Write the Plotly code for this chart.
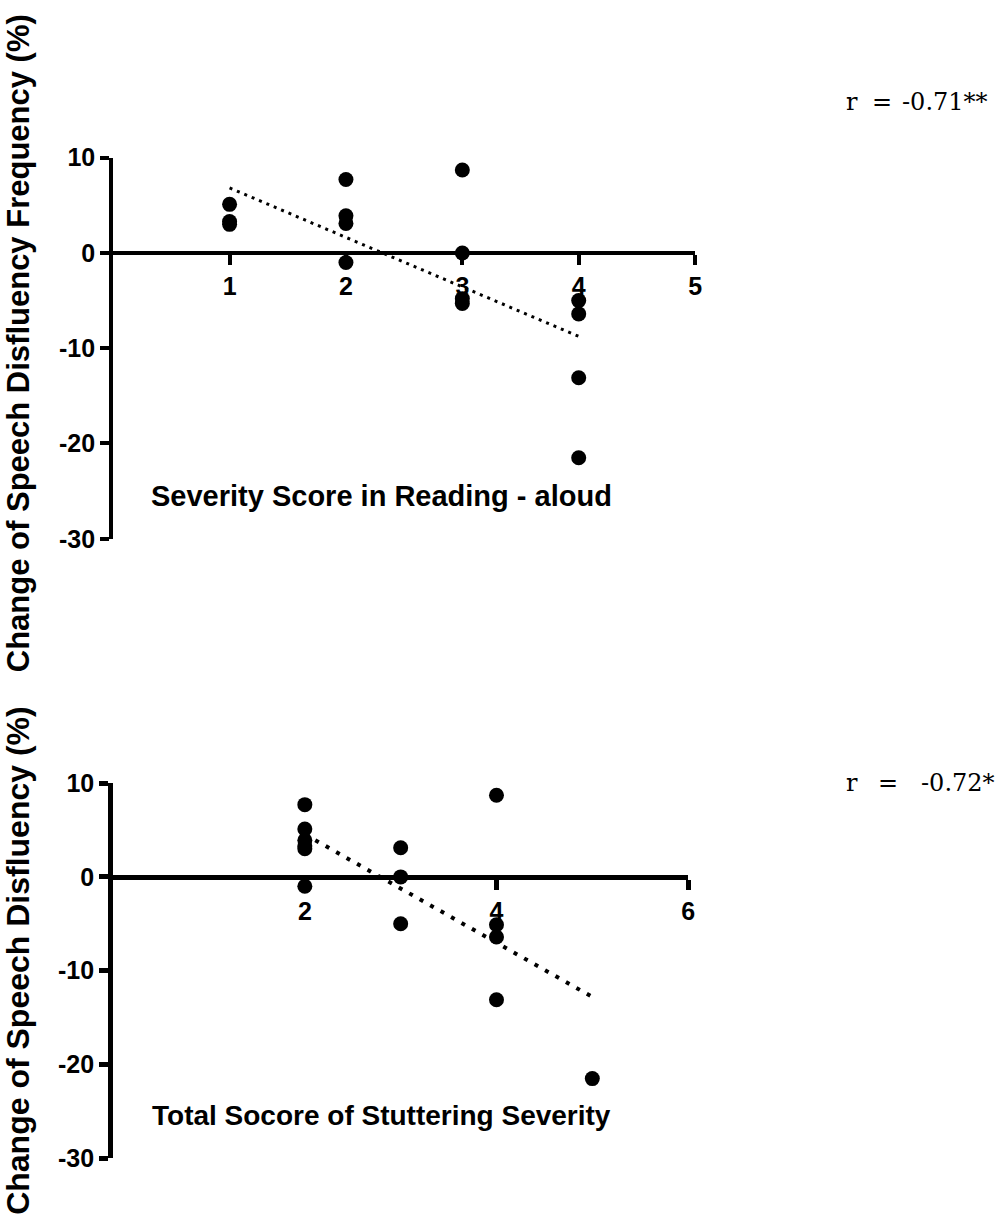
import numpy as np
import plotly.graph_objects as go

# Severity score in reading-aloud vs. change of disfluency frequency
read_score = [1, 1, 1, 2, 2, 2, 2, 3, 3, 3, 3, 4, 4, 4, 4]
read_change = [5.1, 3.3, 3.0, 7.7, 3.9, 3.1, -1.0, 8.7, 0.0, -4.8, -5.3,
               -5.0, -6.4, -13.1, -21.5]

# Total stuttering severity score vs. change of disfluency
total_score = [2, 2, 2, 2, 2, 2, 3, 3, 3, 4, 4, 4, 4, 5]
total_change = [7.7, 5.1, 3.9, 3.3, 3.0, -1.0, 3.1, 0.0, -5.0,
                8.7, -5.1, -6.4, -13.1, -21.5]

y_ticks = [-30, -20, -10, 0, 10]
y_ticktext = ["-30", "-20", "-10", "0", "10"]
top_x_ticks = [1, 2, 3, 4, 5]
bottom_x_ticks = [2, 4, 6]

top_xlabel = "Severity Score in Reading - aloud"
bottom_xlabel = "Total Socore of Stuttering Severity"
top_ytitle = "Change of Speech Disfluency Frequency (%)"
bottom_ytitle = "Change of Speech Disfluency (%)"
top_r = "-0.71**"
bottom_r = "-0.72*"

W, H = 997, 1230


def px_x(p):
    return p / W


def px_y(p):
    return 1 - p / H


def fit_line(x, y):
    slope, icpt = np.polyfit(x, y, 1)
    xs = np.array([min(x), max(x)], dtype=float)
    return xs, slope * xs + icpt


bold = dict(family="Liberation Sans, Arial, sans-serif", color="black", weight="bold")
serif = dict(family="DejaVu Serif, Liberation Serif, serif", color="black", size=24)

fig = go.Figure()

# top panel
fx, fy = fit_line(read_score, read_change)
fig.add_trace(go.Scatter(x=fx, y=fy, mode="lines", xaxis="x", yaxis="y",
                         line=dict(color="black", width=3, dash="3px,5px"),
                         showlegend=False, hoverinfo="skip"))
fig.add_trace(go.Scatter(x=read_score, y=read_change, mode="markers", xaxis="x", yaxis="y",
                         marker=dict(color="black", size=15), cliponaxis=False,
                         showlegend=False))

# bottom panel
fx2, fy2 = fit_line(total_score, total_change)
fig.add_trace(go.Scatter(x=fx2, y=fy2, mode="lines", xaxis="x2", yaxis="y2",
                         line=dict(color="black", width=4, dash="4px,8px"),
                         showlegend=False, hoverinfo="skip"))
fig.add_trace(go.Scatter(x=total_score, y=total_change, mode="markers", xaxis="x2", yaxis="y2",
                         marker=dict(color="black", size=15), cliponaxis=False,
                         showlegend=False))

y_range = [-30, 10]
top_ydom = [px_y(537), px_y(147)]
bot_ydom = [px_y(1171), px_y(787)]


def zero_pos(dom):
    return dom[0] + (0 - y_range[0]) / (y_range[1] - y_range[0]) * (dom[1] - dom[0])


common_x = dict(showgrid=False, zeroline=False, showline=True, linecolor="black",
                ticks="outside", tickcolor="black", ticklen=10,
                tickfont=dict(size=25, **bold), anchor="free", ticklabelstandoff=0)
common_y = dict(showgrid=False, zeroline=False, showline=True, linecolor="black",
                ticks="outside", tickcolor="black", ticklen=9, range=y_range,
                tickvals=y_ticks, ticktext=y_ticktext, tickfont=dict(size=25, **bold))

fig.update_layout(
    width=W, height=H,
    margin=dict(l=0, r=0, t=0, b=0),
    plot_bgcolor="white", paper_bgcolor="white",
    xaxis=dict(domain=[px_x(114), px_x(700)], range=[0, 5], tickvals=top_x_ticks,
               position=zero_pos(top_ydom), linewidth=4, tickwidth=4, **common_x),
    yaxis=dict(domain=top_ydom, anchor="x", linewidth=4, tickwidth=4, **common_y),
    xaxis2=dict(domain=[px_x(114), px_x(693)], range=[0, 6], tickvals=bottom_x_ticks,
                position=zero_pos(bot_ydom), linewidth=5, tickwidth=5, **common_x),
    yaxis2=dict(domain=bot_ydom, anchor="x2", linewidth=5, tickwidth=5, **common_y),
)

annotations = [
    dict(text=top_ytitle, x=px_x(18), y=px_y(337), textangle=-90,
         font=dict(size=31, **bold)),
    dict(text=bottom_ytitle, x=px_x(18), y=px_y(968), textangle=-90,
         font=dict(size=32, **bold)),
    dict(text=top_xlabel, x=px_x(150), y=px_y(493), xanchor="left",
         font=dict(size=29, **bold)),
    dict(text=bottom_xlabel, x=px_x(151), y=px_y(1127), xanchor="left",
         font=dict(size=28, **bold)),
    # correlation coefficients
    dict(text="r", x=px_x(850), y=px_y(90), xanchor="left", font=serif),
    dict(text="=", x=px_x(876), y=px_y(90), xanchor="left", font=serif),
    dict(text=top_r, x=px_x(906), y=px_y(90), xanchor="left", font=serif),
    dict(text="r", x=px_x(850), y=px_y(787), xanchor="left", font=serif),
    dict(text="=", x=px_x(882), y=px_y(787), xanchor="left", font=serif),
    dict(text=bottom_r, x=px_x(926), y=px_y(787), xanchor="left", font=serif),
]
for a in annotations:
    a.update(xref="paper", yref="paper", showarrow=False, yanchor="middle")
    a.setdefault("xanchor", "center")
fig.update_layout(annotations=annotations)

fig.write_html("out.html")
